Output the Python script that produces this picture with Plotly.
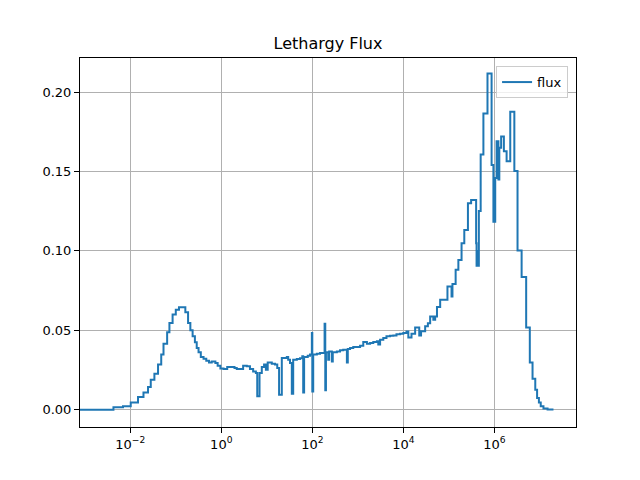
import numpy as np
import plotly.graph_objects as go

# group edges, log10(E/eV)
log_edges = [
	-3.20, -2.37, -2.16, -1.99, -1.83, -1.71, -1.61, -1.55, -1.47, -1.39,
	-1.32, -1.27, -1.19, -1.14, -1.07, -1.00, -0.93, -0.79, -0.73, -0.68,
	-0.63, -0.58, -0.54, -0.50, -0.45, -0.39, -0.33, -0.27, -0.21, -0.13,
	-0.08, -0.02, 0.05, 0.13, 0.29, 0.34, 0.48, 0.56, 0.63, 0.70,
	0.76, 0.79, 0.84, 0.89, 0.94, 0.98, 1.02, 1.11, 1.18, 1.23,
	1.27, 1.33, 1.44, 1.47, 1.51, 1.55, 1.58, 1.66, 1.73, 1.78,
	1.80, 1.82, 1.90, 1.95, 1.99, 2.00, 2.02, 2.10, 2.17, 2.27,
	2.285, 2.30, 2.35, 2.37, 2.43, 2.45, 2.54, 2.61, 2.68, 2.76,
	2.78, 2.83, 2.90, 3.05, 3.12, 3.20, 3.27, 3.34, 3.42, 3.45,
	3.49, 3.56, 3.63, 3.71, 3.78, 3.85, 3.93, 4.00, 4.07, 4.11,
	4.18, 4.26, 4.35, 4.39, 4.48, 4.54, 4.59, 4.66, 4.70, 4.74,
	4.81, 4.97, 5.06, 5.08, 5.15, 5.21, 5.28, 5.34, 5.42, 5.49,
	5.60, 5.61, 5.63, 5.64, 5.66, 5.70, 5.76, 5.85, 5.94, 5.98,
	5.99, 6.00, 6.02, 6.05, 6.09, 6.11, 6.15, 6.21, 6.27, 6.35,
	6.44, 6.51, 6.60, 6.70, 6.78, 6.84, 6.90, 6.94, 6.98, 7.02,
	7.08, 7.17, 7.30,
]

# lethargy flux per group
flux = [
	0.0, 0.0015, 0.0021, 0.0046, 0.0080, 0.0109, 0.0143, 0.0189, 0.0227, 0.0284,
	0.0347, 0.0416, 0.0487, 0.0546, 0.0599, 0.0630, 0.0645, 0.0613, 0.0546, 0.0500,
	0.0462, 0.0424, 0.0389, 0.0361, 0.0332, 0.0321, 0.0309, 0.0298, 0.0304, 0.0294,
	0.0277, 0.0260, 0.0257, 0.0269, 0.0262, 0.0257, 0.0277, 0.0273, 0.0256, 0.0241,
	0.0231, 0.0084, 0.0231, 0.0269, 0.0284, 0.0252, 0.0298, 0.0290, 0.0284, 0.0263,
	0.0094, 0.0326, 0.0332, 0.0315, 0.0294, 0.0101, 0.0315, 0.0319, 0.0324, 0.0336,
	0.0109, 0.0332, 0.0340, 0.0347, 0.0483, 0.0115, 0.0347, 0.0353, 0.0357, 0.0542,
	0.0122, 0.0361, 0.0315, 0.0367, 0.0304, 0.0361, 0.0367, 0.0374, 0.0378, 0.0298,
	0.0383, 0.0389, 0.0395, 0.0403, 0.0427, 0.0416, 0.0420, 0.0427, 0.0431, 0.0410,
	0.0441, 0.0452, 0.0462, 0.0466, 0.0468, 0.0475, 0.0479, 0.0483, 0.0492, 0.0455,
	0.0479, 0.0518, 0.0468, 0.0494, 0.0525, 0.0545, 0.0587, 0.0567, 0.0587, 0.0646,
	0.0692, 0.0776, 0.0713, 0.0792, 0.0881, 0.0943, 0.1048, 0.1132, 0.1300, 0.1320,
	0.1048, 0.0906, 0.1000, 0.0906, 0.1252, 0.1608, 0.1866, 0.2118, 0.1541, 0.1184,
	0.1400, 0.1184, 0.1460, 0.1690, 0.1450, 0.1650, 0.1720, 0.1627, 0.1564, 0.1876,
	0.1503, 0.1002, 0.0836, 0.0518, 0.0298, 0.0195, 0.0126, 0.0073, 0.0046, 0.0021,
	0.0008, 0.0002,
]

x_ticks = [1e-2, 1e0, 1e2, 1e4, 1e6]
x_labels = ["10<sup>\u22122</sup>", "10<sup>0</sup>", "10<sup>2</sup>", "10<sup>4</sup>", "10<sup>6</sup>"]
y_ticks = [0.0, 0.05, 0.10, 0.15, 0.20]
y_labels = ["0.00", "0.05", "0.10", "0.15", "0.20"]

energy = 10 ** np.array(log_edges)
yy = flux + [flux[-1]]

trace = go.Scatter(x=energy, y=yy, mode="lines", name="flux",
				line=dict(color="#1f77b4", width=2, shape="hv"))

axis_style = dict(showline=True, linecolor="black", linewidth=1, mirror=True,
				ticks="outside", ticklen=5, tickcolor="black",
				showgrid=True, gridcolor="#b0b0b0", gridwidth=1, zeroline=False,
				tickfont=dict(size=13, color="black"))

# page body adds 8px, so the figure is 632x472 and margins are shifted
layout = go.Layout(
	width=632, height=472,
	margin=dict(l=72, r=64, t=50, b=53),
	paper_bgcolor="white", plot_bgcolor="white",
	font=dict(family="DejaVu Sans", color="black"),
	title=dict(text="Lethargy Flux", x=0.5, xref="paper", y=1 - 35/472, yref="container",
			yanchor="middle", font=dict(size=16)),
	xaxis=dict(type="log", range=[-3.105, 7.795], tickvals=x_ticks, ticktext=x_labels, **axis_style),
	yaxis=dict(range=[-0.0109, 0.2215], tickvals=y_ticks, ticktext=y_labels, **axis_style),
	showlegend=True,
	legend=dict(x=0.984, y=0.978, xanchor="right", yanchor="top",
				bgcolor="rgba(255,255,255,0.8)", bordercolor="#cccccc", borderwidth=1,
				font=dict(size=13)),
)

fig = go.Figure(data=[trace], layout=layout)
fig.write_html("out.html")
